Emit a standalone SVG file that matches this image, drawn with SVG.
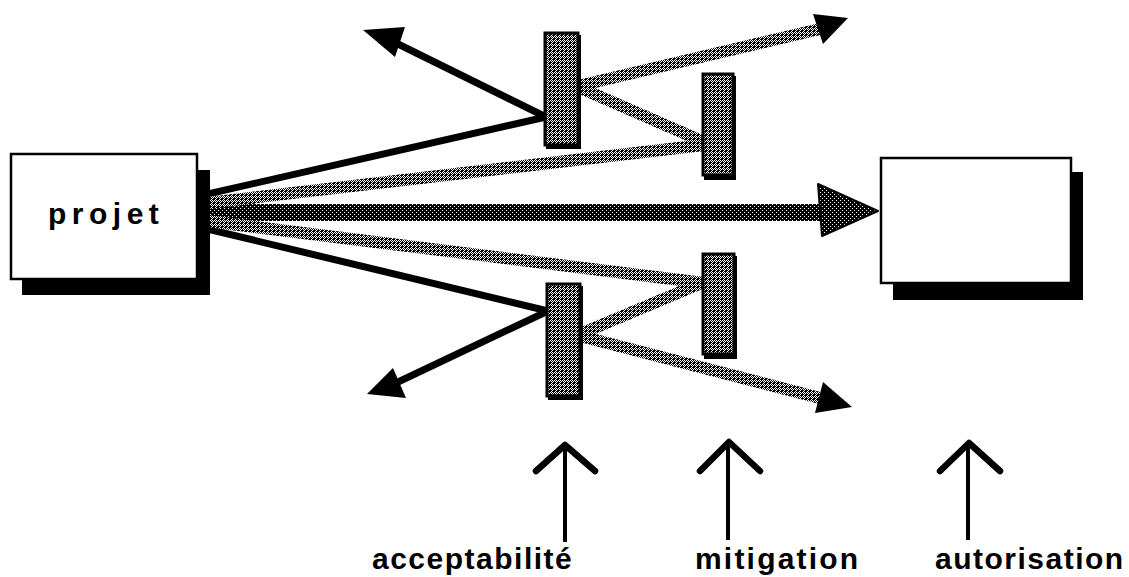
<svg xmlns="http://www.w3.org/2000/svg" width="1129" height="577" viewBox="0 0 1129 577">
  <defs>
    <!-- slightly heavier halftone for the connector bands and bars -->
    <pattern id="band" patternUnits="userSpaceOnUse" width="4" height="4">
      <rect width="4" height="4" fill="#000" shape-rendering="crispEdges"/>
      <rect x="0" y="0" width="1" height="1" fill="#fff" shape-rendering="crispEdges"/>
      <rect x="2" y="0" width="1" height="1" fill="#fff" shape-rendering="crispEdges"/>
      <rect x="1" y="1" width="1" height="1" fill="#fff" shape-rendering="crispEdges"/>
      <rect x="3" y="1" width="1" height="1" fill="#fff" shape-rendering="crispEdges"/>
      <rect x="0" y="2" width="1" height="1" fill="#fff" shape-rendering="crispEdges"/>
      <rect x="3" y="3" width="1" height="1" fill="#fff" shape-rendering="crispEdges"/>
    </pattern>
    <!-- dense halftone for the main flow -->
    <pattern id="dense" patternUnits="userSpaceOnUse" width="4" height="4">
      <rect width="4" height="4" fill="#000" shape-rendering="crispEdges"/>
      <rect x="0" y="0" width="1" height="1" fill="#fff" shape-rendering="crispEdges"/>
      <rect x="2" y="2" width="1" height="1" fill="#fff" shape-rendering="crispEdges"/>
    </pattern>
    <style>
      .box { fill: #fff; stroke: #000; stroke-width: 2.5; }
      .shadow { fill: #000; }
      .bar { fill: url(#band); stroke: #000; stroke-width: 3; }
      .blk { stroke: #000; stroke-width: 7; fill: none; stroke-linecap: butt; }
      .grey { stroke: url(#band); stroke-width: 12; fill: none; stroke-linecap: butt; }
      .head { fill: #000; }
      .up-shaft { stroke: #000; stroke-width: 4; fill: none; }
      .up-head { stroke: #000; stroke-width: 6.5; fill: none; stroke-linecap: round; stroke-linejoin: round; }
      .label { font-family: "Liberation Sans", Arial, sans-serif; font-weight: bold; font-size: 30px; fill: #000; }
    </style>
  </defs>

  <!-- connectors -->
  <g id="connectors">
    <!-- main flow projet -> autorisation -->
    <rect x="199" y="204" width="623" height="17" fill="url(#dense)"/>
    <polygon points="878,211 818,184 822,236" fill="url(#dense)" stroke="#000" stroke-width="2" stroke-linejoin="round"/>

    <!-- upper branch -->
    <line class="blk" x1="199" y1="196" x2="546" y2="117"/>
    <line class="blk" x1="546" y1="117" x2="398" y2="44"/>
    <polygon class="head" points="363,30 405,27 395,57"/>
    <line class="grey" x1="199" y1="204" x2="704" y2="145"/>
    <line class="grey" x1="578" y1="87" x2="704" y2="142"/>
    <line class="grey" x1="578" y1="86" x2="820" y2="29"/>
    <polygon class="head" points="848,18 813,14 823,44"/>

    <!-- lower branch -->
    <line class="blk" x1="199" y1="227" x2="548" y2="311"/>
    <line class="blk" x1="548" y1="311" x2="398" y2="382"/>
    <polygon class="head" points="367,394 393,368 406,398"/>
    <line class="grey" x1="199" y1="220" x2="704" y2="283"/>
    <line class="grey" x1="580" y1="334" x2="704" y2="282"/>
    <line class="grey" x1="580" y1="336" x2="820" y2="398"/>
    <polygon class="head" points="852,407 823,382 815,413"/>
  </g>

  <!-- projet -->
  <g id="projet">
    <rect class="shadow" x="22" y="170" width="188" height="125"/>
    <rect class="box" x="11" y="154" width="186" height="125"/>
    <text class="label" x="48" y="224" letter-spacing="5.5">projet</text>
  </g>

  <!-- autorisation box -->
  <g id="resultat">
    <rect class="shadow" x="893" y="172" width="190" height="128"/>
    <rect class="box" x="881" y="158" width="190" height="125"/>
  </g>

  <!-- filter bars -->
  <g id="bar-acceptabilite-haut">
    <rect class="shadow" x="546" y="35" width="35" height="114"/>
    <rect class="bar" x="545" y="33" width="33" height="112"/>
  </g>
  <g id="bar-mitigation-haut">
    <rect class="shadow" x="704" y="76" width="32" height="104"/>
    <rect class="bar" x="703" y="74" width="30" height="101"/>
  </g>
  <g id="bar-acceptabilite-bas">
    <rect class="shadow" x="548" y="286" width="35" height="114"/>
    <rect class="bar" x="547" y="284" width="33" height="112"/>
  </g>
  <g id="bar-mitigation-bas">
    <rect class="shadow" x="704" y="256" width="33" height="103"/>
    <rect class="bar" x="703" y="254" width="31" height="100"/>
  </g>

  <!-- stage labels -->
  <g id="acceptabilite">
    <line class="up-shaft" x1="565" y1="447" x2="565" y2="542"/>
    <polyline class="up-head" points="536,471 565,445 595,471"/>
    <text class="label" x="372" y="569" letter-spacing="1.5">acceptabilité</text>
  </g>
  <g id="mitigation">
    <line class="up-shaft" x1="728" y1="444" x2="728" y2="540"/>
    <polyline class="up-head" points="700,471 729,442 760,471"/>
    <text class="label" x="695" y="569" letter-spacing="2.2">mitigation</text>
  </g>
  <g id="autorisation">
    <line class="up-shaft" x1="968" y1="445" x2="968" y2="540"/>
    <polyline class="up-head" points="940,471 969,443 1000,471"/>
    <text class="label" x="935" y="569" letter-spacing="1.5">autorisation</text>
  </g>
</svg>
